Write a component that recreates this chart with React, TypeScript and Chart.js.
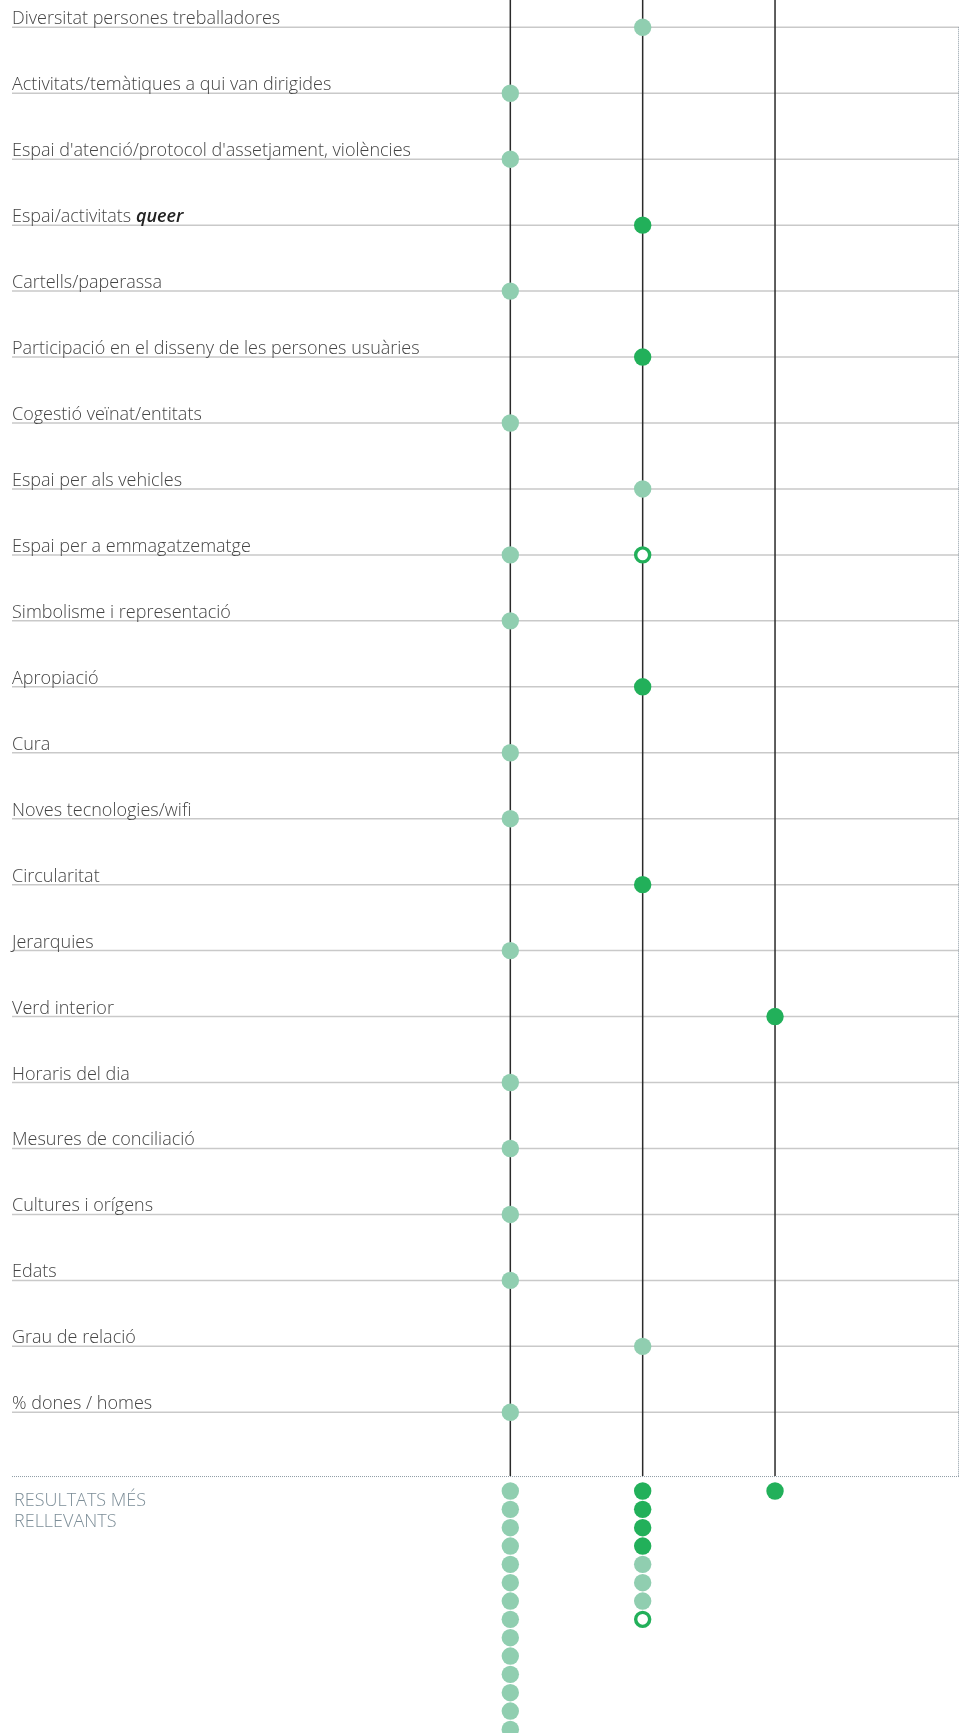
import React, { useEffect, useRef } from "react";
import { Chart, registerables } from "chart.js";

Chart.register(...registerables);

// ---- Data ----
const categories: string[] = [
  "Diversitat persones treballadores",
  "Activitats/temàtiques a qui van dirigides",
  "Espai d'atenció/protocol d'assetjament, violències",
  "Espai/activitats *queer*",
  "Cartells/paperassa",
  "Participació en el disseny de les persones usuàries",
  "Cogestió veïnat/entitats",
  "Espai per als vehicles",
  "Espai per a emmagatzematge",
  "Simbolisme i representació",
  "Apropiació",
  "Cura",
  "Noves tecnologies/wifi",
  "Circularitat",
  "Jerarquies",
  "Verd interior",
  "Horaris del dia",
  "Mesures de conciliació",
  "Cultures i orígens",
  "Edats",
  "Grau de relació",
  "% dones / homes",
];

// L = light dot, D = dark dot, R = ring, "" = none
const column1: string[] = ["", "L", "L", "", "L", "", "L", "", "L", "L", "", "L", "L", "", "L", "", "L", "L", "L", "L", "", "L"];
const column2: string[] = ["L", "", "", "D", "", "D", "", "L", "R", "", "D", "", "", "D", "", "", "", "", "", "", "L", ""];
const column3: string[] = ["", "", "", "", "", "", "", "", "", "", "", "", "", "", "", "D", "", "", "", "", "", ""];

const columns: string[][] = [column1, column2, column3];
const summaryLabel: string[] = ["RESULTATS MÉS", "RELLEVANTS"];
const summaryOrder: string[] = ["D", "L", "R"];

// ---- Style / layout ----
const LIGHT = "#90CEB0";
const DARK = "#22B05A";
const FRAME_BOTTOM = 21.982;
const SUMMARY_START = 22.194;
const SUMMARY_STEP = 0.278;

function buildPoints(type: string) {
  const pts: { x: number; y: number }[] = [];
  columns.forEach((col, ci) => {
    col.forEach((v, ri) => {
      if (v === type) pts.push({ x: ci + 1, y: ri });
    });
  });
  // summary stacks
  columns.forEach((col, ci) => {
    let k = 0;
    summaryOrder.forEach((t) => {
      const n = col.filter((v) => v === t).length;
      for (let i = 0; i < n; i++) {
        if (t === type) pts.push({ x: ci + 1, y: SUMMARY_START + k * SUMMARY_STEP });
        k++;
      }
    });
  });
  return pts;
}

const framePlugin = {
  id: "frame",
  beforeDatasetsDraw(chart: any) {
    const { ctx, chartArea, scales } = chart;
    const xs = scales.x;
    const ys = scales.y;
    const left = chartArea.left;
    const right = chartArea.right;
    const bottom = ys.getPixelForValue(FRAME_BOTTOM);
    ctx.save();
    // horizontal row lines
    ctx.strokeStyle = "#c9c9c9";
    ctx.lineWidth = 1.5;
    categories.forEach((_, i) => {
      const y = ys.getPixelForValue(i);
      ctx.beginPath();
      ctx.moveTo(left, y);
      ctx.lineTo(right, y);
      ctx.stroke();
    });
    // labels
    ctx.textBaseline = "alphabetic";
    ctx.textAlign = "left";
    categories.forEach((label, i) => {
      const y = ys.getPixelForValue(i) - 3;
      const parts = label.split("*");
      let x = left;
      parts.forEach((p, pi) => {
        if (!p) return;
        if (pi % 2 === 1) {
          ctx.font = 'italic 600 18px "Open Sans"';
          ctx.fillStyle = "#222222";
        } else {
          ctx.font = '300 18px "Open Sans"';
          ctx.fillStyle = "#444444";
        }
        ctx.fillText(p, x, y);
        x += ctx.measureText(p).width;
      });
    });
    // dotted frame
    ctx.strokeStyle = "#8e9ba5";
    ctx.lineWidth = 1;
    ctx.setLineDash([1, 1]);
    const topRow = ys.getPixelForValue(0);
    ctx.beginPath();
    ctx.moveTo(right - 0.5, topRow);
    ctx.lineTo(right - 0.5, bottom);
    ctx.moveTo(left, bottom - 0.5);
    ctx.lineTo(right, bottom - 0.5);
    ctx.stroke();
    ctx.setLineDash([]);
    // vertical column lines
    ctx.strokeStyle = "#2a2a2a";
    ctx.lineWidth = 1.5;
    columns.forEach((_, ci) => {
      const x = xs.getPixelForValue(ci + 1);
      ctx.beginPath();
      ctx.moveTo(x, chartArea.top);
      ctx.lineTo(x, bottom - 1);
      ctx.stroke();
    });
    // summary label
    ctx.font = '300 18px "Open Sans"';
    ctx.fillStyle = "#7d8e98";
    summaryLabel.forEach((t, i) => {
      ctx.fillText(t, left + 2, bottom + 28.5 + i * 21.5);
    });
    ctx.restore();
  },
};

export default function App() {
  const ref = useRef<HTMLCanvasElement | null>(null);
  useEffect(() => {
    if (!ref.current) return;
    const chart = new Chart(ref.current, {
      type: "scatter",
      data: {
        datasets: [
          {
            data: buildPoints("L"),
            backgroundColor: LIGHT,
            borderWidth: 0,
            pointRadius: 8.7,
            clip: false as any,
          },
          {
            data: buildPoints("D"),
            backgroundColor: DARK,
            borderWidth: 0,
            pointRadius: 8.7,
            clip: false as any,
          },
          {
            data: buildPoints("R"),
            backgroundColor: "#ffffff",
            borderColor: DARK,
            borderWidth: 3.4,
            pointRadius: 7,
            clip: false as any,
          },
        ],
      },
      options: {
        animation: false,
        responsive: false,
        maintainAspectRatio: false,
        layout: { autoPadding: false, padding: { left: 12, right: 7, top: 0, bottom: 0 } },
        scales: {
          x: { type: "linear", min: -2.765, max: 4.39, display: false },
          y: { type: "linear", min: -0.414, max: 25.863, reverse: true, display: false },
        },
        plugins: { legend: { display: false }, tooltip: { enabled: false } },
        events: [],
      },
      plugins: [framePlugin],
    });
    return () => chart.destroy();
  }, []);
  return (
    <div style={{ position: "absolute", left: 0, top: 0, width: 966, height: 1733, background: "#fff" }}>
      <canvas ref={ref} width={966} height={1733} style={{ width: 966, height: 1733, display: "block" }} />
    </div>
  );
}
